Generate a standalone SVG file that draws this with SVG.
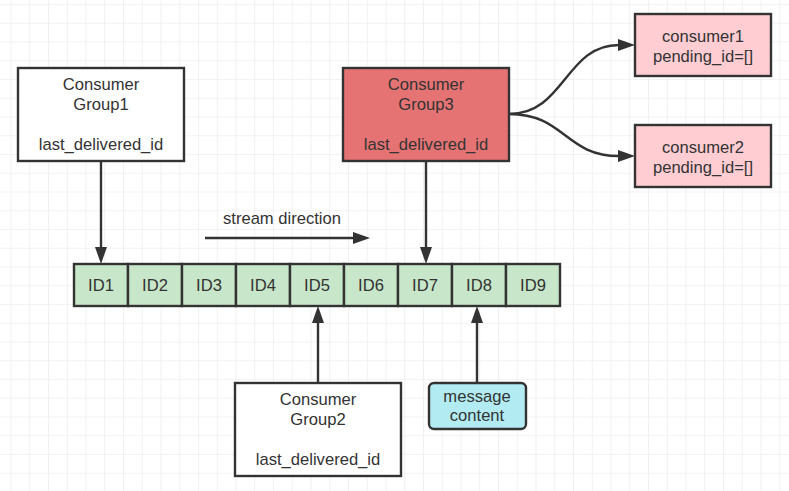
<svg xmlns="http://www.w3.org/2000/svg" width="789" height="491" viewBox="0 0 789 491">
<defs>
<pattern id="grid" patternUnits="userSpaceOnUse" x="10.5" y="4" width="18.75" height="18.75">
<path d="M0,0 H18.75 M0,0 V18.75" fill="none" stroke="#e8e8e8" stroke-width="1.2"/>
</pattern>
</defs>
<style>
.box{stroke:#333;stroke-width:2.4}
.t{font-family:"Liberation Sans",Arial,sans-serif;font-size:16.6px;fill:#333;text-anchor:middle}
.c{fill:none;stroke:#333;stroke-width:2.4}
.h{fill:#333}
</style>
<rect width="789" height="491" fill="#fff"/>
<rect width="789" height="491" fill="url(#grid)"/>

<g id="connectors">
<path class="c" d="M101,161 V247" />
<path class="h" d="M95,247 L101,264 L107,247 Z"/>
<path class="c" d="M426,161 V247" />
<path class="h" d="M420,247 L426,264 L432,247 Z"/>
<path class="c" d="M318,383 V323" />
<path class="h" d="M312,323 L318,306 L324,323 Z"/>
<path class="c" d="M477,383 V323" />
<path class="h" d="M471,323 L477,306 L483,323 Z"/>
<path class="c" d="M205,238 H354" />
<path class="h" d="M353,232 L370,238 L353,244 Z"/>
<path class="c" d="M509,114 C565,114 565,45 619,45" />
<path class="h" d="M618,39 L635,45 L618,51 Z"/>
<path class="c" d="M509,114 C565,114 565,156 619,156" />
<path class="h" d="M618,150 L635,156 L618,162 Z"/>
</g>

<g id="stream-label">
<text class="t" x="282" y="224">stream direction</text>
</g>

<g id="group1">
<rect class="box" x="18" y="68" width="166" height="93" fill="#fff"/>
<text class="t" x="101" y="90">Consumer</text>
<text class="t" x="101" y="110">Group1</text>
<text class="t" x="101" y="150">last_delivered_id</text>
</g>

<g id="group3">
<rect class="box" x="343" y="68" width="166" height="93" fill="#e57373"/>
<text class="t" x="426" y="90">Consumer</text>
<text class="t" x="426" y="110">Group3</text>
<text class="t" x="426" y="150">last_delivered_id</text>
</g>

<g id="consumer1">
<rect class="box" x="635" y="14" width="136" height="62" fill="#ffcdd2"/>
<text class="t" x="703" y="42">consumer1</text>
<text class="t" x="703" y="62">pending_id=[]</text>
</g>

<g id="consumer2">
<rect class="box" x="635" y="125" width="136" height="62" fill="#ffcdd2"/>
<text class="t" x="703" y="153">consumer2</text>
<text class="t" x="703" y="173">pending_id=[]</text>
</g>

<g id="stream">
<rect class="box" x="74" y="264" width="54" height="42" fill="#c8e6c9"/>
<rect class="box" x="128" y="264" width="54" height="42" fill="#c8e6c9"/>
<rect class="box" x="182" y="264" width="54" height="42" fill="#c8e6c9"/>
<rect class="box" x="236" y="264" width="54" height="42" fill="#c8e6c9"/>
<rect class="box" x="290" y="264" width="54" height="42" fill="#c8e6c9"/>
<rect class="box" x="344" y="264" width="54" height="42" fill="#c8e6c9"/>
<rect class="box" x="398" y="264" width="54" height="42" fill="#c8e6c9"/>
<rect class="box" x="452" y="264" width="54" height="42" fill="#c8e6c9"/>
<rect class="box" x="506" y="264" width="54" height="42" fill="#c8e6c9"/>
<text class="t" x="101" y="291">ID1</text>
<text class="t" x="155" y="291">ID2</text>
<text class="t" x="209" y="291">ID3</text>
<text class="t" x="263" y="291">ID4</text>
<text class="t" x="317" y="291">ID5</text>
<text class="t" x="371" y="291">ID6</text>
<text class="t" x="425" y="291">ID7</text>
<text class="t" x="479" y="291">ID8</text>
<text class="t" x="533" y="291">ID9</text>
</g>

<g id="group2">
<rect class="box" x="235" y="383" width="166" height="93" fill="#fff"/>
<text class="t" x="318" y="405">Consumer</text>
<text class="t" x="318" y="425">Group2</text>
<text class="t" x="318" y="465">last_delivered_id</text>
</g>

<g id="message">
<rect class="box" x="429" y="383" width="97" height="46" rx="5" fill="#b2ebf2"/>
<text class="t" x="477" y="401.5">message</text>
<text class="t" x="477" y="421">content</text>
</g>
</svg>
